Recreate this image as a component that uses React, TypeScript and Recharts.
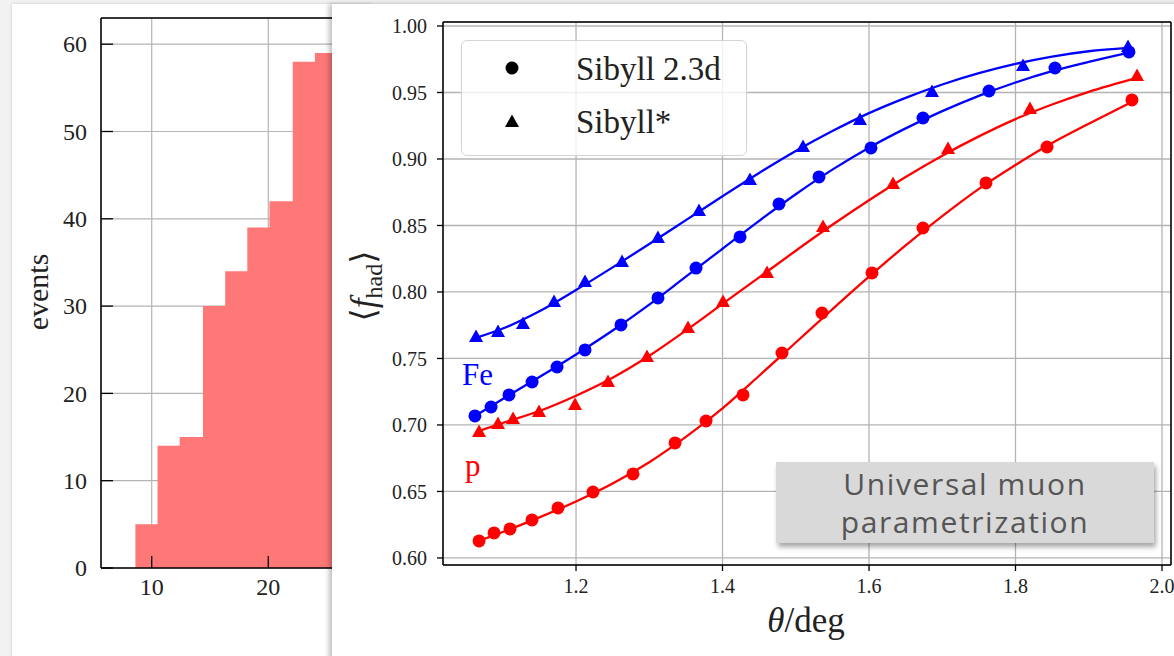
import React from 'react';
import {
  AreaChart,
  Area,
  ComposedChart,
  Line,
  Scatter,
  XAxis,
  YAxis,
  CartesianGrid,
  ReferenceLine,
} from 'recharts';

// ---------- Left panel: histogram of events ----------
const histBinEdges = [8.6, 10.5, 12.4, 14.4, 16.3, 18.2, 20.1, 22.1, 24.0, 25.9];
const histCounts = [5, 14, 15, 30, 34, 39, 42, 58, 59];
const histXTicks = [10, 20, 30];
const histYTicks = [0, 10, 20, 30, 40, 50, 60];

// ---------- Right panel: <f_had> vs theta ----------
const thetaTicks = [1.2, 1.4, 1.6, 1.8, 2.0];
const fhadTicks = [0.6, 0.65, 0.7, 0.75, 0.8, 0.85, 0.9, 0.95, 1.0];

// Fe, Sibyll 2.3d (circles)
const feSibyll23Points: [number, number][] = [
  [1.062, 0.7068], [1.084, 0.7135], [1.1085, 0.7226], [1.14, 0.7323], [1.1741, 0.7436],
  [1.2123, 0.7564], [1.2614, 0.7752], [1.3119, 0.7955], [1.3638, 0.818], [1.4239, 0.8414],
  [1.4771, 0.8662], [1.5317, 0.8865], [1.6027, 0.9083], [1.6737, 0.9308], [1.7638, 0.9511],
  [1.8539, 0.9684], [1.9549, 0.9805],
];
// Fe, Sibyll* (triangles)
const feSibyllStarPoints: [number, number][] = [
  [1.0635, 0.7662], [1.0935, 0.7699], [1.1276, 0.7759], [1.17, 0.7925], [1.2123, 0.8075],
  [1.2628, 0.8226], [1.3119, 0.8406], [1.3679, 0.8609], [1.4375, 0.8842], [1.5099, 0.909],
  [1.5877, 0.9293], [1.686, 0.9504], [1.8102, 0.9699], [1.9536, 0.9842],
];
// p, Sibyll 2.3d (circles)
const pSibyll23Points: [number, number][] = [
  [1.0676, 0.6128], [1.0881, 0.6188], [1.1099, 0.6218], [1.1399, 0.6286], [1.1754, 0.6376],
  [1.2232, 0.6496], [1.2778, 0.6632], [1.3352, 0.6865], [1.3775, 0.703], [1.428, 0.7226],
  [1.4812, 0.7541], [1.5358, 0.7842], [1.6041, 0.8143], [1.6737, 0.8481], [1.7597, 0.882],
  [1.843, 0.909], [1.959, 0.9444],
];
// p, Sibyll* (triangles)
const pSibyllStarPoints: [number, number][] = [
  [1.0676, 0.6947], [1.0935, 0.7008], [1.114, 0.7045], [1.1495, 0.7098], [1.1986, 0.715],
  [1.2437, 0.7323], [1.2969, 0.7511], [1.3529, 0.7729], [1.4007, 0.7925], [1.4608, 0.8143],
  [1.5372, 0.8489], [1.6328, 0.8812], [1.7079, 0.9075], [1.8198, 0.9376], [1.9659, 0.9624],
];

// Fitted curves
const feSibyll23Fit: [number, number][] = [
  [1.062, 0.7068], [1.1, 0.7195], [1.15, 0.736], [1.2, 0.753], [1.25, 0.771], [1.3, 0.7905],
  [1.35, 0.8115], [1.4, 0.8325], [1.45, 0.8535], [1.5, 0.8735], [1.55, 0.892], [1.6, 0.9085],
  [1.65, 0.923], [1.7, 0.936], [1.75, 0.9475], [1.8, 0.9575], [1.85, 0.966], [1.9, 0.973],
  [1.955, 0.98],
];
const feSibyllStarFit: [number, number][] = [
  [1.0635, 0.7655], [1.1, 0.7725], [1.15, 0.7855], [1.2, 0.8015], [1.25, 0.8185], [1.3, 0.836],
  [1.35, 0.854], [1.4, 0.872], [1.45, 0.8895], [1.5, 0.906], [1.55, 0.921], [1.6, 0.9345],
  [1.65, 0.946], [1.7, 0.956], [1.75, 0.9645], [1.8, 0.9715], [1.85, 0.977], [1.9, 0.981],
  [1.9536, 0.9835],
];
const pSibyll23Fit: [number, number][] = [
  [1.0676, 0.6128], [1.1, 0.6195], [1.15, 0.6305], [1.2, 0.6425], [1.25, 0.656], [1.3, 0.672],
  [1.35, 0.691], [1.4, 0.7125], [1.45, 0.737], [1.5, 0.762], [1.55, 0.787], [1.6, 0.8115],
  [1.65, 0.835], [1.7, 0.857], [1.75, 0.8775], [1.8, 0.8955], [1.85, 0.912], [1.9, 0.9265],
  [1.959, 0.943],
];
const pSibyllStarFit: [number, number][] = [
  [1.0676, 0.6955], [1.1, 0.7015], [1.15, 0.7105], [1.2, 0.722], [1.25, 0.7355], [1.3, 0.752],
  [1.35, 0.771], [1.4, 0.791], [1.45, 0.811], [1.5, 0.831], [1.55, 0.8505], [1.6, 0.869],
  [1.65, 0.8865], [1.7, 0.9025], [1.75, 0.917], [1.8, 0.93], [1.85, 0.941], [1.9, 0.9505],
  [1.9659, 0.961],
];

const legendLabels = ['Sibyll 2.3d', 'Sibyll*'];
const speciesLabels = ['Fe', 'p'];
const boxLines = ['Universal muon', 'parametrization'];

// ---------- helpers ----------
const toXY = (pts: [number, number][]) => pts.map(([x, y]) => ({ x, y }));

const histData = histBinEdges.map((edge, i) => ({
  x: edge,
  events: histCounts[Math.min(i, histCounts.length - 1)],
}));

const SERIF = '"Liberation Serif", "DejaVu Serif", serif';
const BLUE = '#0000ff';
const RED = '#ff0000';
const GRID = '#b4b4b4';

const HistYTick = (props: any) => {
  const { x, y, payload } = props;
  return (
    <g>
      <line x1={x + 14} x2={x + 26} y1={y} y2={y} stroke="#000" strokeWidth={1.3} />
      <text x={x} y={y} dy="0.34em" textAnchor="end" fontFamily={SERIF} fontSize={24} fill="#222">
        {payload.value}
      </text>
    </g>
  );
};

const HistXTick = (props: any) => {
  const { x, y, payload } = props;
  return (
    <g>
      <line x1={x} x2={x} y1={y - 10} y2={y - 22} stroke="#000" strokeWidth={1.3} />
      <text x={x} y={y} dy="0.72em" textAnchor="middle" fontFamily={SERIF} fontSize={24} fill="#222">
        {payload.value}
      </text>
    </g>
  );
};

const CircleMark = (props: any) => (
  <circle cx={props.cx} cy={props.cy} r={6.5} fill={props.fill} />
);
const TriMark = (props: any) => {
  const { cx, cy, fill } = props;
  return <polygon points={`${cx},${cy - 7.5} ${cx - 7},${cy + 5} ${cx + 7},${cy + 5}`} fill={fill} />;
};

export default function App() {
  const thetaMin = 1.0184;
  const thetaMax = 2.0123;
  const fMin = 0.5947;
  const fMax = 1.003;
  const histXMin = 5.65;
  const histXMax = 31.3;
  const histYMax = 63;

  return (
    <div
      style={{
        position: 'absolute',
        left: 0,
        top: 0,
        width: 1174,
        height: 656,
        overflow: 'hidden',
        background: '#f2f2f2',
      }}
    >
      {/* left card */}
      <div
        style={{
          position: 'absolute',
          left: 12,
          top: 4,
          width: 360,
          height: 700,
          background: '#fff',
          boxShadow: '0 0 3px rgba(0,0,0,0.18)',
        }}
      />
      <div style={{ position: 'absolute', left: 0, top: 0 }}>
        <AreaChart
          width={420}
          height={656}
          data={histData}
          margin={{ left: 41, top: 18, right: 20, bottom: 58 }}
        >
          <CartesianGrid stroke={GRID} strokeWidth={1.2} />
          <XAxis
            type="number"
            dataKey="x"
            domain={[histXMin, histXMax]}
            allowDataOverflow
            ticks={histXTicks}
            height={30}
            tickSize={0}
            tickMargin={10}
            tickLine={false}
            axisLine={{ stroke: '#000', strokeWidth: 1.5 }}
            tick={<HistXTick />}
            interval={0}
          />
          <YAxis
            type="number"
            domain={[0, histYMax]}
            allowDataOverflow
            ticks={histYTicks}
            width={60}
            tickSize={0}
            tickMargin={14}
            tickLine={false}
            axisLine={{ stroke: '#000', strokeWidth: 1.5 }}
            tick={<HistYTick />}
            interval={0}
          />
          <Area
            type="stepAfter"
            dataKey="events"
            stroke="none"
            fill="#ff7878"
            fillOpacity={1}
            baseValue={0}
            isAnimationActive={false}
          />
          <ReferenceLine y={histYMax} stroke="#000" strokeWidth={1.5} />
        </AreaChart>
      </div>
      <svg style={{ position: 'absolute', left: 0, top: 0 }} width={100} height={656}>
        <text
          x={48}
          y={292}
          transform="rotate(-90 48 292)"
          textAnchor="middle"
          fontFamily={SERIF}
          fontSize={30}
          fill="#222"
        >
          events
        </text>
      </svg>

      {/* right card */}
      <div
        style={{
          position: 'absolute',
          left: 332,
          top: 4,
          width: 900,
          height: 700,
          background: '#fff',
          boxShadow: '-3px 0 5px rgba(0,0,0,0.25)',
        }}
      />
      <div style={{ position: 'absolute', left: 0, top: 0 }}>
        <ComposedChart
          width={1174}
          height={656}
          margin={{ left: 373, top: 22, right: 3, bottom: 51 }}
        >
          <CartesianGrid stroke={GRID} strokeWidth={1.3} />
          <XAxis
            type="number"
            dataKey="x"
            domain={[thetaMin, thetaMax]}
            allowDataOverflow
            ticks={thetaTicks}
            interval={0}
            height={40}
            tickSize={6}
            tickMargin={8}
            tickFormatter={(v: number) => v.toFixed(1)}
            tick={{ fontFamily: SERIF, fontSize: 20, fill: '#222' }}
            tickLine={{ stroke: '#000', strokeWidth: 1.3 }}
            axisLine={{ stroke: '#000', strokeWidth: 1.5 }}
          />
          <YAxis
            type="number"
            dataKey="y"
            domain={[fMin, fMax]}
            allowDataOverflow
            ticks={fhadTicks}
            interval={0}
            width={70}
            tickSize={6}
            tickMargin={10}
            tickFormatter={(v: number) => v.toFixed(2)}
            tick={{ fontFamily: SERIF, fontSize: 20, fill: '#222' }}
            tickLine={{ stroke: '#000', strokeWidth: 1.3 }}
            axisLine={{ stroke: '#000', strokeWidth: 1.5 }}
          />
          <ReferenceLine y={fMax} stroke="#000" strokeWidth={1.5} />
          <ReferenceLine x={thetaMax} stroke="#000" strokeWidth={1.5} />
          <Line data={toXY(feSibyllStarFit)} dataKey="y" type="monotone" stroke={BLUE} strokeWidth={2.3} dot={false} isAnimationActive={false} />
          <Line data={toXY(feSibyll23Fit)} dataKey="y" type="monotone" stroke={BLUE} strokeWidth={2.3} dot={false} isAnimationActive={false} />
          <Line data={toXY(pSibyllStarFit)} dataKey="y" type="monotone" stroke={RED} strokeWidth={2.3} dot={false} isAnimationActive={false} />
          <Line data={toXY(pSibyll23Fit)} dataKey="y" type="monotone" stroke={RED} strokeWidth={2.3} dot={false} isAnimationActive={false} />
          <Scatter data={toXY(feSibyllStarPoints)} dataKey="y" fill={BLUE} shape={<TriMark />} isAnimationActive={false} />
          <Scatter data={toXY(feSibyll23Points)} dataKey="y" fill={BLUE} shape={<CircleMark />} isAnimationActive={false} />
          <Scatter data={toXY(pSibyllStarPoints)} dataKey="y" fill={RED} shape={<TriMark />} isAnimationActive={false} />
          <Scatter data={toXY(pSibyll23Points)} dataKey="y" fill={RED} shape={<CircleMark />} isAnimationActive={false} />
        </ComposedChart>
      </div>

      {/* legend */}
      <div
        style={{
          position: 'absolute',
          left: 461,
          top: 40,
          width: 284,
          height: 114,
          border: '1.5px solid #d4d4d4',
          borderRadius: 6,
          background: 'rgba(255,255,255,0.8)',
        }}
      >
        <svg width={284} height={114} style={{ position: 'absolute', left: 0, top: 0 }}>
          <circle cx={50} cy={27} r={6.5} fill="#000" />
          <polygon points="50,73.5 43,86 57,86" fill="#000" />
          <text x={114} y={39} fontFamily={SERIF} fontSize={33} fill="#222">
            {legendLabels[0]}
          </text>
          <text x={114} y={92} fontFamily={SERIF} fontSize={33} fill="#222">
            {legendLabels[1]}
          </text>
        </svg>
      </div>

      {/* annotations */}
      <svg style={{ position: 'absolute', left: 0, top: 0 }} width={1174} height={656}>
        <defs>
          <filter id="boxShadow" x="-10%" y="-20%" width="120%" height="160%">
            <feDropShadow dx="2" dy="4" stdDeviation="2.5" floodColor="#000" floodOpacity="0.35" />
          </filter>
        </defs>
        <text x={462} y={385} fontFamily={SERIF} fontSize={31} fill={BLUE}>
          {speciesLabels[0]}
        </text>
        <text x={465} y={476} fontFamily={SERIF} fontSize={31} fill={RED}>
          {speciesLabels[1]}
        </text>

        {/* y axis label <f_had> */}
        <g transform="rotate(-90 375 286)">
          <text x={375} y={286} textAnchor="middle" fontFamily={SERIF} fontSize={35} fill="#222">
            <tspan fontFamily='"DejaVu Serif", serif' fontSize={34}>⟨</tspan>
            <tspan fontStyle="italic">f</tspan>
            <tspan fontSize={24} dy={7}>had</tspan>
            <tspan fontFamily='"DejaVu Serif", serif' fontSize={34} dy={-7}>⟩</tspan>
          </text>
        </g>

        {/* x axis label */}
        <text x={806} y={632} textAnchor="middle" fontFamily={SERIF} fontSize={35} fill="#222">
          <tspan fontStyle="italic">θ</tspan>
          <tspan>/deg</tspan>
        </text>

        {/* grey box */}
        <rect x={776} y={462} width={378} height={81} fill="#d9d9d9" filter="url(#boxShadow)" />
        <text x={965} y={495} textAnchor="middle" fontFamily='"Open Sans", sans-serif' fontSize={30} letterSpacing={1.6} fill="#555">
          {boxLines[0]}
        </text>
        <text x={965} y={533} textAnchor="middle" fontFamily='"Open Sans", sans-serif' fontSize={30} letterSpacing={1.6} fill="#555">
          {boxLines[1]}
        </text>
      </svg>
    </div>
  );
}
